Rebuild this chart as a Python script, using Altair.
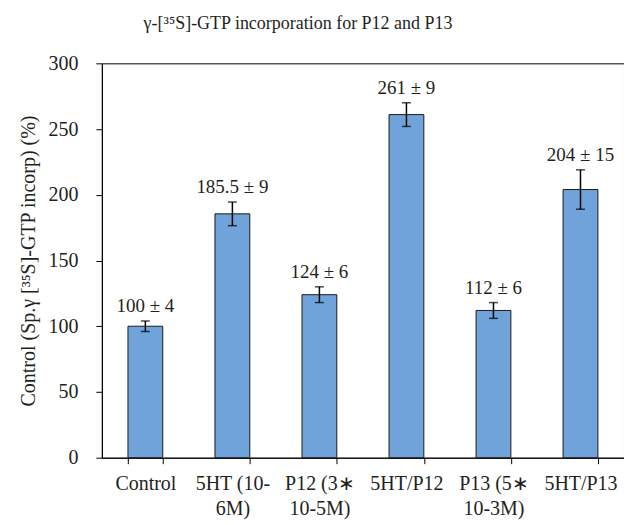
import altair as alt
import pandas as pd

categories = ["Control", "5HT (10-|6M)", "P12 (3∗|10-5M)", "5HT/P12", "P13 (5∗|10-3M)", "5HT/P13"]
values = [100, 185.5, 124, 261, 112, 204]
errors = [4, 9, 6, 9, 6, 15]
labels = ["100 ± 4", "185.5 ± 9", "124 ± 6", "261 ± 9", "112 ± 6", "204 ± 15"]

df = pd.DataFrame({"cat": categories, "val": values, "err": errors, "label": labels})
df["lo"] = df["val"] - df["err"]
df["hi"] = df["val"] + df["err"]

FONT = "Liberation Serif"
TXT = "#231F20"

xenc = alt.X("cat:N", sort=categories, title=None,
             scale=alt.Scale(paddingInner=0.6, paddingOuter=0.3),
             axis=alt.Axis(labelAngle=0, labelExpr="split(datum.label, '|')",
                           tickBand="extent", tickSize=6, labelPadding=10,
                           labelBaseline="top", labelLineHeight=25,
                           domainColor="#000", tickColor="#000",
                           labelFont=FONT, labelFontSize=20, labelColor=TXT))
yscale = alt.Scale(domain=[0, 300], nice=False)

bars = alt.Chart(df).mark_bar(color="#6FA3DA", stroke="#1a1a1a", strokeWidth=1).encode(
    x=xenc,
    y=alt.Y("val:Q", scale=yscale,
            title="Control (Sp.γ [³⁵S]-GTP incorp) (%)",
            axis=alt.Axis(values=[0, 50, 100, 150, 200, 250, 300], grid=False,
                          tickSize=6, labelPadding=18, titlePadding=9,
                          domainColor="#000", tickColor="#000",
                          labelFont=FONT, labelFontSize=20, labelColor=TXT,
                          titleFont=FONT, titleFontSize=20, titleFontWeight="normal",
                          titleColor=TXT)),
)

rules = alt.Chart(df).mark_rule(color="#000", strokeWidth=1.5).encode(
    x=alt.X("cat:N", sort=categories), y=alt.Y("lo:Q", scale=yscale), y2="hi:Q"
)
caps_lo = alt.Chart(df).mark_tick(color="#000", size=9, thickness=1.5).encode(
    x=alt.X("cat:N", sort=categories), y=alt.Y("lo:Q", scale=yscale)
)
caps_hi = alt.Chart(df).mark_tick(color="#000", size=9, thickness=1.5).encode(
    x=alt.X("cat:N", sort=categories), y=alt.Y("hi:Q", scale=yscale)
)
text = alt.Chart(df).mark_text(font=FONT, fontSize=19, color=TXT,
                                baseline="alphabetic", dy=-9).encode(
    x=alt.X("cat:N", sort=categories), y=alt.Y("hi:Q", scale=yscale), text="label:N"
)

chart = alt.layer(bars, rules, caps_lo, caps_hi, text).properties(
    width=523, height=395,
    title=alt.TitleParams("γ-[³⁵S]-GTP incorporation for P12 and P13",
                          font=FONT, fontSize=18, fontWeight="normal", color=TXT,
                          anchor="middle", dx=-65, offset=20),
    autosize=alt.AutoSizeParams(type="none"),
    padding={"left": 94, "top": 55, "right": 0, "bottom": 67},
).configure_view(stroke="#000", strokeWidth=1)

chart.save("out.html", embed_options={"renderer": "svg", "actions": False})
